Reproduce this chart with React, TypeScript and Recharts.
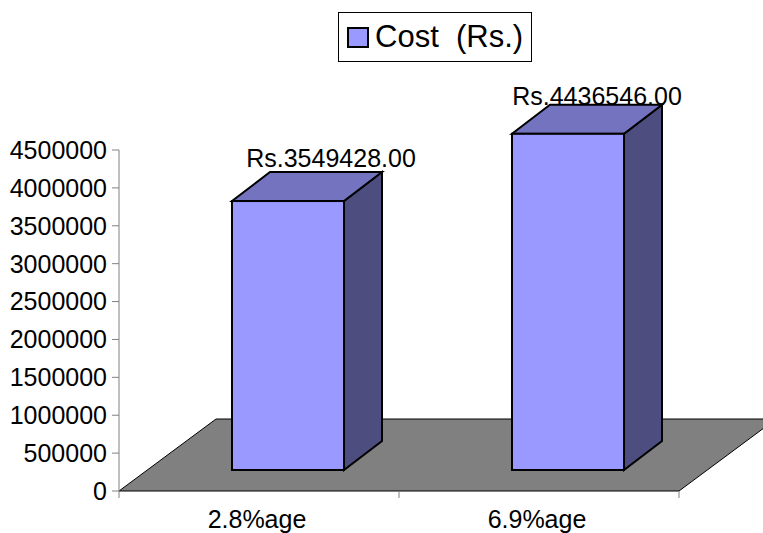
import { BarChart, Bar, XAxis, YAxis, Legend, LabelList, ReferenceArea } from "recharts";

const categories = ["2.8%age", "6.9%age"];
const costValues = [3549428, 4436546];
const yTicks = [0, 500000, 1000000, 1500000, 2000000, 2500000, 3000000, 3500000, 4000000, 4500000];
const seriesName = "Cost  (Rs.)";

const chartData = categories.map((name, i) => ({ name, cost: costValues[i] }));

const FONT = "'Liberation Sans', Arial, sans-serif";
const FONT_SIZE = 25;

// the fake 3d look: how far each box is pushed in from the axes, and its depth
const BAR_SHIFT_X = 29;
const BAR_SHIFT_Y = 21;
const DEPTH_X = 38;
const DEPTH_Y = 29;
const FLOOR_X = 97;
const FLOOR_Y = 72;

function Box3D(props: any) {
  const { x, y, width, height } = props;
  const left = x + BAR_SHIFT_X;
  const right = left + width;
  const top = y - BAR_SHIFT_Y;
  const bottom = top + height;
  const line = { stroke: "#000", strokeWidth: 2, strokeLinejoin: "miter" as const };
  return (
    <g>
      <polygon
        points={`${right},${top} ${right + DEPTH_X},${top - DEPTH_Y} ${right + DEPTH_X},${bottom - DEPTH_Y} ${right},${bottom}`}
        fill="#4D4D80"
        {...line}
      />
      <polygon
        points={`${left},${top} ${left + DEPTH_X},${top - DEPTH_Y} ${right + DEPTH_X},${top - DEPTH_Y} ${right},${top}`}
        fill="#7373BF"
        {...line}
      />
      <rect x={left} y={top} width={width} height={height} fill="#9999FF" {...line} />
    </g>
  );
}

function Floor(props: any) {
  const { x, y, width, height } = props;
  const bottom = y + height;
  const ticks = categories.map((_, i) => x + (width * i) / categories.length).concat(x + width);
  return (
    <g>
      <polygon
        points={`${x},${bottom} ${x + width},${bottom} ${x + width + FLOOR_X},${bottom - FLOOR_Y} ${x + FLOOR_X},${bottom - FLOOR_Y}`}
        fill="#808080"
        stroke="#000"
        strokeWidth={1}
      />
      {ticks.map((t) => (
        <line key={t} x1={t} x2={t} y1={bottom} y2={bottom + 7} stroke="#808080" strokeWidth={1} />
      ))}
    </g>
  );
}

function CategoryTick(props: any) {
  const { x, y, payload } = props;
  return (
    <text x={x - 2} y={y + 29} textAnchor="middle" fontFamily={FONT} fontSize={FONT_SIZE} fill="#000">
      {payload.value}
    </text>
  );
}

function ValueLabel(props: any) {
  const { x, y, width, value, index } = props;
  const nudge = index === 0 ? { dx: 72, dy: -55 } : { dx: 58, dy: -50 };
  return (
    <text x={x + width / 2 + nudge.dx} y={y + nudge.dy} textAnchor="middle" fontFamily={FONT} fontSize={FONT_SIZE} fill="#000">
      {`Rs.${value}.00`}
    </text>
  );
}

function LegendBox() {
  return (
    <div
      style={{
        boxSizing: "border-box",
        width: 194,
        height: 50,
        border: "1px solid #000",
        background: "#fff",
        display: "flex",
        alignItems: "center",
        paddingLeft: 8,
        fontFamily: FONT,
        fontSize: 31,
        color: "#000",
        whiteSpace: "pre",
      }}
    >
      <span style={{ boxSizing: "border-box", width: 22, height: 21, background: "#9999FF", border: "2px solid #000", marginRight: 6 }} />
      {seriesName}
    </div>
  );
}

export default function App() {
  return (
    <div style={{ position: "absolute", left: 0, top: 0, width: 763, height: 533, overflow: "hidden" }}>
      <BarChart width={763} height={533} data={chartData} barSize={112} margin={{ top: 150, right: 84, bottom: 0, left: 0 }}>
        <ReferenceArea y1={0} y2={4500000} shape={<Floor />} />
        <XAxis
          dataKey="name"
          height={42}
          axisLine={false}
          tickLine={false}
          tick={<CategoryTick />}
          interval={0}
        />
        <YAxis
          width={119}
          domain={[0, 4500000]}
          ticks={yTicks}
          interval={0}
          axisLine={{ stroke: "#808080" }}
          tickLine={{ stroke: "#808080" }}
          tickSize={7}
          tickMargin={5}
          tick={{ fontFamily: FONT, fontSize: FONT_SIZE, fill: "#000" }}
        />
        <Legend
          layout="vertical"
          align="center"
          verticalAlign="middle"
          content={<LegendBox />}
          wrapperStyle={{ left: 338, top: 12, width: 194, height: 50 }}
        />
        <Bar dataKey="cost" name={seriesName} fill="#9999FF" shape={<Box3D />} isAnimationActive={false}>
          <LabelList dataKey="cost" content={<ValueLabel />} />
        </Bar>
      </BarChart>
    </div>
  );
}
